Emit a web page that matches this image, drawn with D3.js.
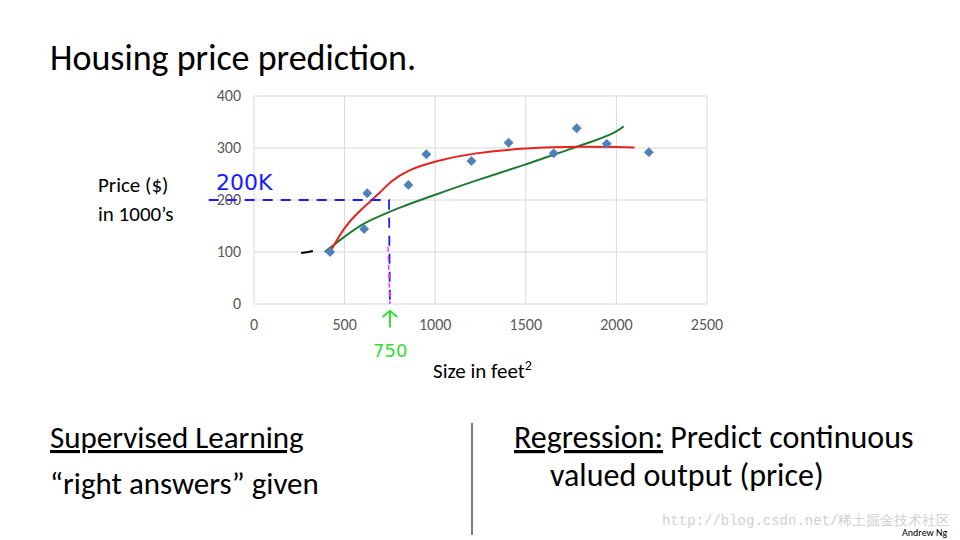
<!DOCTYPE html>
<html><head><meta charset="utf-8">
<script src="https://cdn.jsdelivr.net/npm/d3@7"></script>
<style>body{margin:0;background:#fff;font-family:Calibri,"Liberation Sans","Open Sans",sans-serif}</style>
</head><body><div id="chart"></div>
<script>
// data
const sizes = [420, 608, 625, 852, 951, 1200, 1405, 1654, 1781, 1947, 2179];
const prices = [100, 144, 213, 229, 288, 275, 310, 290, 338, 308, 292];
const redX = [420, 500, 600, 700, 750, 850, 1000, 1200, 1500, 1800, 2100];
const redY = [100, 150, 185, 215, 235, 258, 275, 290, 300, 303, 301];
const greenX = [390, 500, 600, 700, 800, 1000, 1200, 1500, 1700, 1850, 2000, 2040];
const greenY = [100, 130, 155, 170, 185, 210, 235, 268, 293, 310, 330, 342];
const xTicks = [0, 500, 1000, 1500, 2000, 2500];
const yTicks = [0, 100, 200, 300, 400];

const svg = d3.select("#chart").append("svg").attr("width", 960).attr("height", 540);

const x = d3.scaleLinear().domain([0, 2500]).range([254, 707]);
const y = d3.scaleLinear().domain([0, 400]).range([304, 96]);

// gridlines
svg.append("g").selectAll("line").data(yTicks).enter().append("line")
    .attr("x1", x(0)).attr("x2", x(2500)).attr("y1", d => y(d)).attr("y2", d => y(d))
    .attr("stroke", "#d9d9d9");
svg.append("g").selectAll("line").data(xTicks).enter().append("line")
    .attr("y1", y(0)).attr("y2", y(400)).attr("x1", d => x(d)).attr("x2", d => x(d))
    .attr("stroke", "#d9d9d9");

svg.append("g").selectAll("text").data(xTicks).enter().append("text")
    .attr("x", d => x(d)).attr("y", 330).attr("text-anchor", "middle")
    .attr("font-size", 16).attr("fill", "#595959").text(d => d);
svg.append("g").selectAll("text").data(yTicks).enter().append("text")
    .attr("x", 241).attr("y", d => y(d) + 5).attr("text-anchor", "end")
    .attr("font-size", 16).attr("fill", "#595959").text(d => d);

const line = d3.line().curve(d3.curveBasis);
svg.append("path").attr("d", line(greenX.map((v, i) => [x(v), y(greenY[i])])))
    .attr("fill", "none").attr("stroke", "#1e7b30").attr("stroke-width", 2);
svg.append("path").attr("d", line(redX.map((v, i) => [x(v), y(redY[i])])))
    .attr("fill", "none").attr("stroke", "#e8201e").attr("stroke-width", 2);

svg.append("g").selectAll("rect").data(sizes).enter().append("rect")
    .attr("x", -3.5).attr("y", -3.5).attr("width", 7).attr("height", 7)
    .attr("transform", (d, i) => `translate(${x(d)},${y(prices[i])}) rotate(45)`)
    .attr("fill", "#4f81bd");

// hand annotations
svg.append("path").attr("d", `M${x(-250)},${y(200)} L${x(745)},${y(200)} L${x(750)},${y(0)}`)
    .attr("fill", "none").attr("stroke", "#1a1aff").attr("stroke-width", 1.8).attr("stroke-dasharray", "10,8");
svg.append("path").attr("d", `M${x(740)},${y(110)} L${x(750)},${y(0)}`)
    .attr("stroke", "#ff33ff").attr("stroke-width", 1.5).attr("stroke-dasharray", "5,4");
svg.append("path").attr("d", `M${x(260)},${y(98)} L${x(300)},${y(100)} L${x(325)},${y(102)}`)
    .attr("fill", "none").attr("stroke", "#000").attr("stroke-width", 2);
svg.append("text").attr("x", 216).attr("y", 190).attr("fill", "#1a1aff")
    .attr("font-size", 22).attr("font-family", "DejaVu Sans").text("200K");
svg.append("path").attr("d", `M${x(750)},${y(-45)} L${x(750)},${y(-13)} M${x(710)},${y(-25)} L${x(750)},${y(-13)} L${x(790)},${y(-25)}`)
    .attr("fill", "none").attr("stroke", "#33dd33").attr("stroke-width", 2);
svg.append("text").attr("x", 373).attr("y", 357).attr("fill", "#33dd33")
    .attr("font-size", 18).attr("font-family", "DejaVu Sans").text("750");

const t = (x0, y0, s, size) => svg.append("text").attr("x", x0).attr("y", y0)
    .attr("font-size", size).attr("fill", "#000").text(s);
t(50, 70, "Housing price prediction.", 36);
t(98, 192, "Price ($)", 21);
t(98, 221, "in 1000’s", 21);
svg.append("text").attr("x", 433).attr("y", 378).attr("font-size", 21).text("Size in feet")
    .append("tspan").attr("font-size", 14).attr("dy", -8).text("2");
t(50, 448, "Supervised Learning", 31).attr("text-decoration", "underline");
t(50, 494, "“right answers” given", 31);
svg.append("line").attr("x1", 472).attr("x2", 472).attr("y1", 423).attr("y2", 535).attr("stroke", "#000");
const r = svg.append("text").attr("x", 514).attr("y", 448).attr("font-size", 32);
r.append("tspan").attr("text-decoration", "underline").text("Regression:");
r.append("tspan").text(" Predict continuous");
t(550, 486, "valued output (price)", 32);
svg.append("text").attr("x", 662).attr("y", 525).attr("font-size", 14).attr("fill", "#d0d0d0")
    .attr("font-family", "Liberation Mono").text("http://blog.csdn.net/稀土掘金技术社区");
t(902, 536, "Andrew Ng", 10);
</script></body></html>
